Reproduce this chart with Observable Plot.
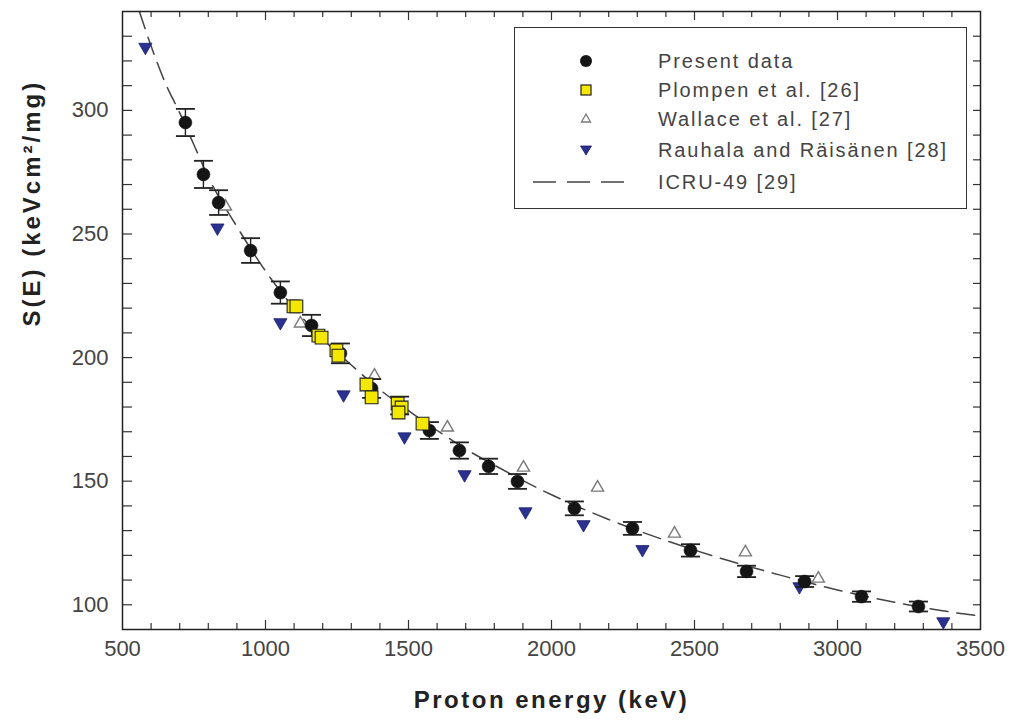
<!DOCTYPE html>
<html>
<head>
<meta charset="utf-8">
<script src="https://cdn.jsdelivr.net/npm/d3@7"></script>
<script src="https://cdn.jsdelivr.net/npm/@observablehq/plot@0.6"></script>
<style>
  body { margin: 0; background: #fff; }
  #wrap { position: relative; width: 1010px; height: 727px; font-family: "Liberation Sans", Arial, sans-serif; }
  #legend { position: absolute; left: 514px; top: 27px; width: 453px; height: 182px; border: 1.3px solid #333; box-sizing: border-box; background: #fff; }
  .row { position: absolute; left: 0; height: 30px; width: 100%; }
  .row svg { position: absolute; left: 0; top: 0; }
  .row span { position: absolute; left: 143px; top: 3px; font-size: 20px; letter-spacing: 1.9px; color: #444; line-height: 24px; white-space: nowrap; }
</style>
</head>
<body>
<div id="wrap"></div>
<script>
// ---- data ----
const presentE = [720, 783, 836, 948, 1052, 1161, 1262, 1371, 1469, 1573, 1678, 1780, 1881, 2080, 2283, 2486, 2682, 2885, 3084, 3283];
const presentS = [295.1, 274.1, 262.7, 243.3, 226.3, 213.0, 201.7, 187.5, 180.6, 170.5, 162.4, 156.0, 149.9, 139.0, 130.9, 122.0, 113.5, 109.4, 103.3, 99.3];
const presentErr = [5.5, 5.5, 5.0, 5.0, 4.5, 4.3, 4.0, 3.8, 3.6, 3.4, 3.3, 3.1, 3.0, 2.8, 2.6, 2.5, 2.3, 2.2, 2.1, 2.0];

const plompenE = [1098, 1108, 1185, 1196, 1248, 1255, 1353, 1371, 1462, 1476, 1465, 1549];
const plompenS = [220.7, 220.7, 208.9, 208.1, 202.9, 200.8, 189.1, 183.9, 181.4, 179.8, 177.8, 173.3];

const wallaceE = [860, 1122, 1381, 1636, 1902, 2161, 2430, 2678, 2933];
const wallaceS = [261.1, 213.8, 192.7, 171.7, 155.5, 147.4, 128.8, 121.2, 110.6];

const rauhalaE = [580, 832, 1052, 1273, 1486, 1696, 1909, 2112, 2318, 2867, 3370];
const rauhalaS = [325.6, 252.5, 214.2, 185.0, 168.0, 152.7, 137.7, 132.5, 122.4, 107.4, 93.2];

const icruE = [559, 600, 650, 700, 750, 800, 900, 1000, 1100, 1200, 1300, 1400, 1500, 1600, 1700, 1800, 2000, 2200, 2400, 2600, 2800, 3000, 3200, 3400, 3500];
const icruS = [340, 326, 311, 299, 286, 273, 253, 235, 220, 207.5, 197, 187, 178.5, 170.5, 163, 156.5, 144.5, 134.5, 126, 118.5, 112, 106, 101, 97, 95.5];

const xTickLabels = [500, 1000, 1500, 2000, 2500, 3000, 3500];
const yTickLabels = [100, 150, 200, 250, 300];
const xMinorTicks = d3.range(600, 3500, 100).filter(v => v % 500 !== 0);
const xMajorTicks = [1000, 1500, 2000, 2500, 3000];
const yMinorTicks = d3.range(100, 340, 10);

const seriesNames = ["Present data", "Plompen et al. [26]", "Wallace et al. [27]", "Rauhala and Räisänen [28]", "ICRU-49 [29]"];
const xTitle = "Proton energy (keV)";
const yTitle = "S(E) (keVcm\u00B2/mg)";

// ---- tables ----
const present = presentE.map((e, i) => ({e, s: presentS[i], err: presentErr[i]}));
const plompen = plompenE.map((e, i) => ({e, s: plompenS[i]}));
const wallace = wallaceE.map((e, i) => ({e, s: wallaceS[i]}));
const rauhala = rauhalaE.map((e, i) => ({e, s: rauhalaS[i]}));
const icru = icruE.map((e, i) => ({e, s: icruS[i]}));

const W = 1010, H = 727, mL = 122, mR = 30, mT = 11, mB = 98;
const innerW = W - mL - mR, innerH = H - mT - mB;

const capSymbol = { draw(ctx) { ctx.moveTo(-9.5, 0); ctx.lineTo(9.5, 0); } };
const font = "Liberation Sans, Arial, sans-serif";

const chart = Plot.plot({
  width: W, height: H,
  marginLeft: mL, marginRight: mR, marginTop: mT, marginBottom: mB,
  style: { fontFamily: font, background: "#fff" },
  x: { domain: [500, 3500], axis: null },
  y: { domain: [90, 340], axis: null },
  marks: [
    // ticks (inward)
    Plot.tickX(xMinorTicks, { x: d => d, insetTop: innerH - 6, stroke: "#333", strokeWidth: 1.2 }),
    Plot.tickX(xMajorTicks, { x: d => d, insetTop: innerH - 9, stroke: "#333", strokeWidth: 1.2 }),
    Plot.tickX(xMinorTicks, { x: d => d, insetBottom: innerH - 6, stroke: "#333", strokeWidth: 1.2 }),
    Plot.tickX(xMajorTicks, { x: d => d, insetBottom: innerH - 9, stroke: "#333", strokeWidth: 1.2 }),
    Plot.tickY(yMinorTicks, { y: d => d, insetRight: innerW - 10, stroke: "#333", strokeWidth: 1.2 }),
    Plot.tickY(yMinorTicks, { y: d => d, insetLeft: innerW - 7, stroke: "#333", strokeWidth: 1.2 }),
    // tick labels
    Plot.text(xTickLabels, { x: d => d, frameAnchor: "bottom", dy: 26, text: d => String(d), fontSize: 22, fill: "#444" }),
    Plot.text(yTickLabels, { y: d => d, frameAnchor: "left", dx: -14, textAnchor: "end", text: d => String(d), fontSize: 22, fill: "#444" }),
    // axis titles
    Plot.text([xTitle], { frameAnchor: "bottom", dy: 78, text: d => d, fontSize: 24, fontWeight: "bold", fill: "#222" }),
    Plot.text([yTitle], { frameAnchor: "left", dx: -90, dy: 6, rotate: -90, text: d => d, fontSize: 24, fontWeight: "bold", fill: "#222" }),
    // ICRU curve
    Plot.line(icru, { x: "e", y: "s", curve: "monotone-x", stroke: "#444", strokeWidth: 1.5, strokeDasharray: "18,9" }),
    // Rauhala
    Plot.dot(rauhala, { x: "e", y: "s", symbol: "triangle", rotate: 180, r: 4.9, fill: "#2b3190", stroke: "#1c2068", strokeWidth: 0.8 }),
    // Wallace
    Plot.dot(wallace, { x: "e", y: "s", symbol: "triangle", r: 4.5, fill: "#fff", stroke: "#7a7a7a", strokeWidth: 1.4 }),
    // Present data error bars
    Plot.ruleX(present, { x: "e", y1: d => d.s - d.err, y2: d => d.s + d.err, stroke: "#222", strokeWidth: 1.4 }),
    Plot.dot(present, { x: "e", y: d => d.s + d.err, symbol: capSymbol, r: 3, fill: "none", stroke: "#222", strokeWidth: 1.8 }),
    Plot.dot(present, { x: "e", y: d => d.s - d.err, symbol: capSymbol, r: 3, fill: "none", stroke: "#222", strokeWidth: 1.8 }),
    Plot.dot(present, { x: "e", y: "s", r: 6.5, fill: "#151515", stroke: "#151515", strokeWidth: 0.5 }),
    // Plompen
    Plot.dot(plompen, { x: "e", y: "s", symbol: "square", r: 7.2, fill: "#f5e800", stroke: "#222", strokeWidth: 1.1 }),
    Plot.frame({ stroke: "#222", strokeWidth: 1.5 })
  ]
});

// letter spacing for the axis titles (as in the reference)
d3.select(chart).selectAll("text").each(function () {
  const t = this.textContent;
  if (t === xTitle) this.setAttribute("letter-spacing", "2.5");
  if (t === yTitle) this.setAttribute("letter-spacing", "3");
});

const wrap = document.getElementById("wrap");
wrap.appendChild(chart);

// ---- legend (HTML overlay) ----
const legend = document.createElement("div");
legend.id = "legend";
const tops = [18, 47, 76, 107, 139];
const symbols = [
  '<svg width="120" height="30"><circle cx="71" cy="15" r="6" fill="#151515"/></svg>',
  '<svg width="120" height="30"><rect x="66" y="10" width="10" height="10" fill="#f5e800" stroke="#222" stroke-width="1.2"/></svg>',
  '<svg width="120" height="30"><path d="M71,10 L75.5,18 L66.5,18 Z" fill="#fff" stroke="#7a7a7a" stroke-width="1.3"/></svg>',
  '<svg width="120" height="30"><path d="M65.5,11 L76.5,11 L71,20 Z" fill="#2b3190" stroke="#1c2068" stroke-width="0.8"/></svg>',
  '<svg width="120" height="30"><line x1="18" y1="15" x2="109" y2="15" stroke="#444" stroke-width="1.5" stroke-dasharray="23,11"/></svg>'
];
seriesNames.forEach((name, i) => {
  const row = document.createElement("div");
  row.className = "row";
  row.style.top = tops[i] + "px";
  row.innerHTML = symbols[i] + "<span>" + name + "</span>";
  legend.appendChild(row);
});
wrap.appendChild(legend);
</script>
</body>
</html>
